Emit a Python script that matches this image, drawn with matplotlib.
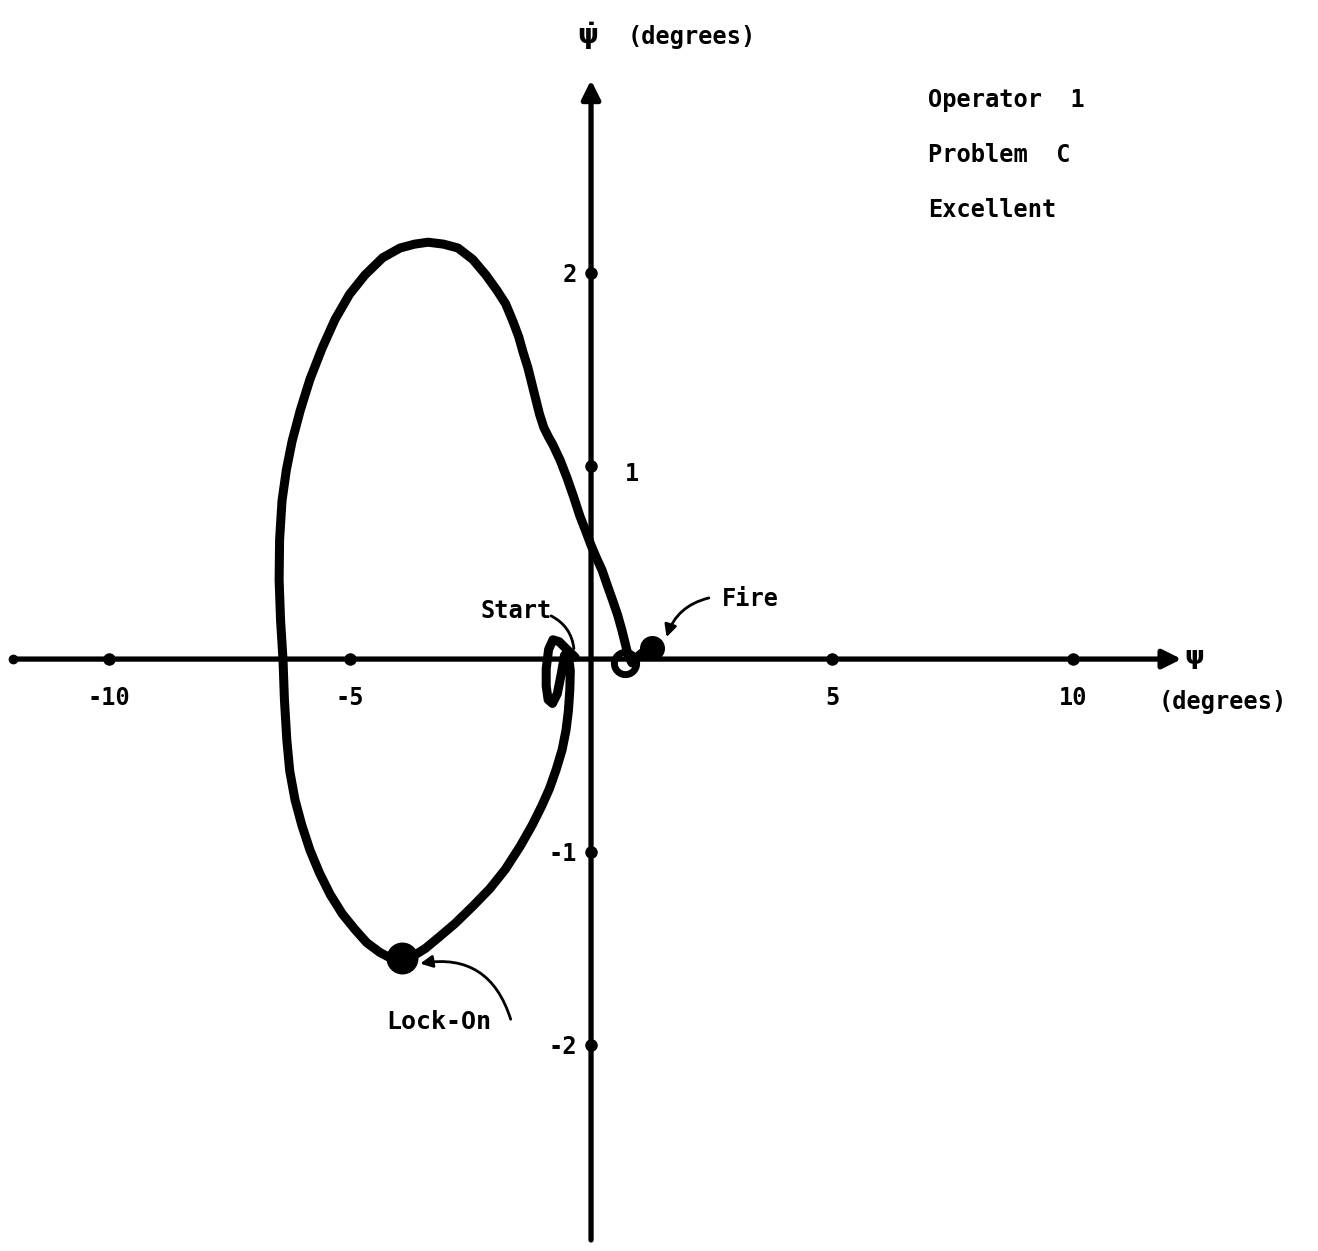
import numpy as np
import matplotlib.pyplot as plt

# phase-plane trace, psi (deg) vs psi-dot (deg)
psi = [-0.33, -0.50, -0.66, -0.79, -0.88, -0.93, -0.93, -0.89, -0.80, -0.70, -0.62, -0.55,
       -0.47, -0.43, -0.44, -0.47, -0.52, -0.60, -0.72, -0.86, -1.02, -1.22, -1.47,
       -1.78, -2.10, -2.45, -2.82, -3.15, -3.44, -3.70, -3.92, -4.15, -4.38, -4.65,
       -4.90, -5.16, -5.41, -5.63, -5.83, -6.00, -6.14, -6.25, -6.31, -6.36, -6.39,
       -6.44, -6.47, -6.46, -6.41, -6.32, -6.20, -6.03, -5.83, -5.58, -5.31, -5.01,
       -4.69, -4.32, -3.96, -3.66, -3.38, -3.06, -2.76, -2.45, -2.18, -1.95, -1.77,
       -1.62, -1.50, -1.41, -1.31, -1.22, -1.14, -1.07, -0.98, -0.88, -0.79, -0.64,
       -0.50, -0.36, -0.23, -0.12, 0.00, 0.12, 0.23, 0.34, 0.44, 0.55, 0.64, 0.71,
       0.77, 0.85, 1.00, 1.15, 1.27]
psi_dot = [0.01, 0.05, 0.09, 0.10, 0.05, -0.05, -0.14, -0.21, -0.23, -0.18, -0.08, 0.02,
           0.02, -0.06, -0.16, -0.27, -0.37, -0.47, -0.57, -0.67, -0.76, -0.86, -0.97,
           -1.09, -1.19, -1.28, -1.37, -1.44, -1.50, -1.54, -1.55, -1.55, -1.52, -1.47,
           -1.40, -1.32, -1.22, -1.11, -0.99, -0.86, -0.73, -0.58, -0.42, -0.21, 0.00,
           0.20, 0.41, 0.62, 0.82, 0.98, 1.13, 1.29, 1.45, 1.61, 1.76, 1.89,
           1.99, 2.08, 2.13, 2.15, 2.16, 2.15, 2.13, 2.07, 1.99, 1.91, 1.84,
           1.75, 1.67, 1.59, 1.51, 1.42, 1.34, 1.27, 1.20, 1.15, 1.11, 1.03,
           0.94, 0.84, 0.74, 0.67, 0.59, 0.52, 0.46, 0.38, 0.31, 0.23, 0.15, 0.08,
           0.02, -0.02, 0.02, 0.05, 0.06]

x_ticks = [-10, -5, 5, 10]
y_ticks = [2, 1, -1, -2]

lock_on = (-3.92, -1.55)
fire_ring = (0.71, -0.02)
fire_pt = (1.27, 0.06)

info = ['Operator  1', 'Problem  C', 'Excellent']

plt.rcParams['font.family'] = ['DejaVu Sans Mono']
plt.rcParams['font.weight'] = 'bold'
plt.rcParams['mathtext.fontset'] = 'dejavusans'

FS = 17

fig = plt.figure(figsize=(13.18, 12.51), dpi=100)
ax = fig.add_axes([0, 0, 1, 1])
ax.set_xlim(-12.26, 15.08)
ax.set_ylim(-3.067, 3.415)
ax.axis('off')

# axes with arrowheads
ax.annotate('', xy=(12.25, 0), xytext=(-12.0, 0),
            arrowprops=dict(arrowstyle='-|>', lw=3.8, color='black', mutation_scale=28,
                            shrinkA=0, shrinkB=0))
ax.annotate('', xy=(0, 3.0), xytext=(0, -3.01),
            arrowprops=dict(arrowstyle='-|>', lw=3.8, color='black', mutation_scale=28,
                            shrinkA=0, shrinkB=0))
ax.plot([-12.0], [0], 'o', color='black', ms=6)

# tick dots
ax.plot(x_ticks, [0] * len(x_ticks), 'o', color='black', ms=8)
ax.plot([0] * len(y_ticks), y_ticks, 'o', color='black', ms=8)

for xv in x_ticks:
    ax.text(xv, -0.2, str(xv), ha='center', va='center', fontsize=FS)
for yv in y_ticks:
    if yv == 1:
        ax.text(0.85, yv - 0.04, str(yv), ha='center', va='center', fontsize=FS)
    else:
        ax.text(-0.3, yv - 0.01, str(yv), ha='right', va='center', fontsize=FS)

# the trajectory
ax.plot(psi, psi_dot, color='black', lw=6.5, solid_joinstyle='round', solid_capstyle='round')
ax.plot(*lock_on, 'o', color='black', ms=22)
ax.plot(*fire_ring, 'o', mfc='none', mec='black', mew=5, ms=16)
ax.plot(*fire_pt, 'o', color='black', ms=17)

# event labels
ax.text(-1.55, 0.25, 'Start', ha='center', va='center', fontsize=FS)
ax.annotate('', xy=(-0.35, 0.04), xytext=(-0.88, 0.23),
            arrowprops=dict(arrowstyle='-', lw=2, color='black',
                            connectionstyle='arc3,rad=-0.3'))
ax.text(3.3, 0.31, 'Fire', ha='center', va='center', fontsize=FS)
ax.annotate('', xy=(1.55, 0.1), xytext=(2.5, 0.32),
            arrowprops=dict(arrowstyle='-|>', lw=2, color='black', mutation_scale=18,
                            connectionstyle='arc3,rad=0.3'))
ax.text(-3.15, -1.88, 'Lock-On', ha='center', va='center', fontsize=18)
ax.annotate('', xy=(-3.6, -1.58), xytext=(-1.65, -1.88),
            arrowprops=dict(arrowstyle='-|>', lw=2, color='black', mutation_scale=18,
                            connectionstyle='arc3,rad=0.45'))

# axis titles
ax.text(-0.3, 3.225, '$\\dot{\\mathrm{\\psi}}$', ha='left', va='center', fontsize=19)
ax.text(0.75, 3.225, '(degrees)', ha='left', va='center', fontsize=FS)
ax.text(12.5, 0.0, '$\\mathrm{\\psi}$', ha='center', va='center', fontsize=18)
ax.text(13.1, -0.22, '(degrees)', ha='center', va='center', fontsize=FS)

for i, line in enumerate(info):
    ax.text(7.0, 2.895 - i * 0.285, line, ha='left', va='center', fontsize=FS)

fig.savefig('out.png', dpi=100, facecolor='white')
